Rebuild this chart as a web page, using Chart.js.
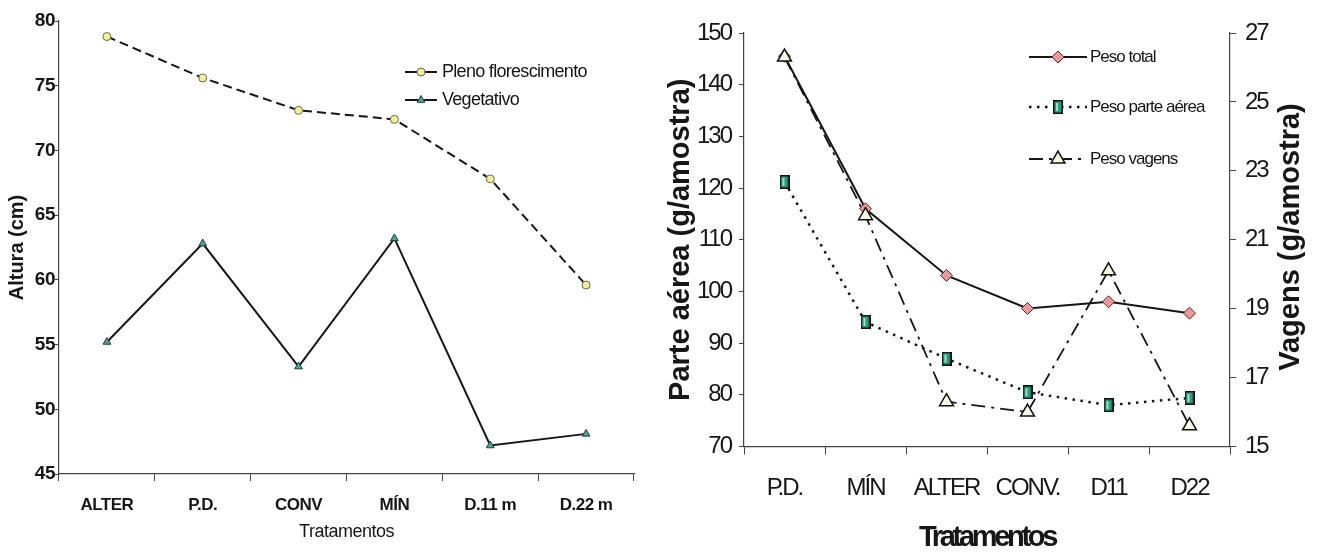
<!DOCTYPE html>
<html>
<head>
<meta charset="utf-8">
<script src="https://cdn.jsdelivr.net/npm/chart.js@4.4.1/dist/chart.umd.min.js"></script>
<style>
  html, body { margin: 0; padding: 0; background: #fff; }
  #wrap { position: relative; width: 1317px; height: 553px; overflow: hidden; }
  .box { position: absolute; top: 0; height: 553px; }
  #alturaBox { left: 0; width: 650px; }
  #pesoBox { left: 650px; width: 667px; }
</style>
</head>
<body>
<div id="wrap">
  <div class="box" id="alturaBox"><canvas id="alturaChart"></canvas></div>
  <div class="box" id="pesoBox"><canvas id="pesoChart"></canvas></div>
</div>
<script>
// Altura das plantas por tratamento
const tratamentosAltura = ['ALTER', 'P.D.', 'CONV', 'MÍN', 'D.11 m', 'D.22 m'];
const plenoFlorescimento = [78.8, 75.6, 73.1, 72.4, 67.8, 59.6];
const vegetativo = [55.2, 62.8, 53.3, 63.2, 47.2, 48.1];
const alturaTicks = [45, 50, 55, 60, 65, 70, 75, 80];

// Peso por tratamento (parte aérea no eixo esquerdo, vagens no direito)
const tratamentosPeso = ['P.D.', 'MÍN', 'ALTER', 'CONV.', 'D11', 'D22'];
const pesoTotal = [145.5, 116.0, 103.1, 96.7, 98.0, 95.8];
const pesoParteAerea = [121.2, 94.1, 87.0, 80.5, 78.0, 79.4];
const pesoVagens = [26.3, 21.7, 16.3, 16.0, 20.1, 15.6];
const parteAereaTicks = [70, 80, 90, 100, 110, 120, 130, 140, 150];
const vagensTicks = [15, 17, 19, 21, 23, 25, 27];

const FAMILY = "'Liberation Sans', Arial, sans-serif";
const INK = '#161616';

// small tall rectangle used as the "parte aérea" marker
function makeMarker(w, h, paint) {
    const c = document.createElement('canvas');
    c.width = w;
    c.height = h;
    paint(c.getContext('2d'), w, h);
    return c;
}
const rectMarker = makeMarker(10, 14, (g, w, h) => {
    g.fillStyle = '#2b9a7c';
    g.fillRect(1, 1, w - 2, h - 2);
    g.fillStyle = '#9fe0c8';
    g.fillRect(3, 3, 2, h - 6);
    g.strokeStyle = '#111';
    g.lineWidth = 1.5;
    g.strokeRect(0.75, 0.75, w - 1.5, h - 1.5);
});

// letter spacing for every text drawn on the canvas
const spacingPlugin = {
    id: 'spacing',
    beforeDraw(chart, args, opts) {
        chart.ctx.letterSpacing = opts.value || '0px';
    }
};

// line + marker legend drawn next to the series
const sideLegend = {
    id: 'sideLegend',
    afterDraw(chart, args, opts) {
        const ctx = chart.ctx;
        ctx.save();
        ctx.letterSpacing = opts.spacing || '0px';
        ctx.font = opts.font;
        ctx.textBaseline = 'middle';
        ctx.textAlign = 'left';
        chart.data.datasets.forEach((ds, i) => {
            const y = opts.rows[i];
            const x0 = opts.x;
            const x1 = opts.x + opts.lineLength;
            ctx.strokeStyle = ds.borderColor;
            ctx.lineWidth = ds.borderWidth;
            ctx.setLineDash(opts.solid ? [] : (ds.borderDash || []));
            ctx.beginPath();
            ctx.moveTo(x0, y);
            ctx.lineTo(x1, y);
            ctx.stroke();
            ctx.setLineDash([]);
            ctx.fillStyle = ds.pointBackgroundColor;
            ctx.strokeStyle = ds.pointBorderColor;
            ctx.lineWidth = ds.pointBorderWidth;
            Chart.helpers.drawPoint(ctx, {
                pointStyle: ds.pointStyle,
                radius: ds.pointRadius,
                borderWidth: ds.pointBorderWidth,
                rotation: 0
            }, (x0 + x1) / 2, y);
            ctx.fillStyle = INK;
            ctx.fillText(ds.label, x1 + opts.gap, y);
        });
        ctx.restore();
    }
};

// axis titles placed relative to the chart area
const axisTitles = {
    id: 'axisTitles',
    afterDraw(chart, args, opts) {
        const ctx = chart.ctx;
        const area = chart.chartArea;
        opts.items.forEach(t => {
            const x = t.x !== undefined ? t.x : (area.left + area.right) / 2;
            const y = t.y !== undefined ? t.y : (area.top + area.bottom) / 2;
            ctx.save();
            ctx.letterSpacing = t.spacing || '0px';
            ctx.font = t.font;
            ctx.fillStyle = INK;
            ctx.textAlign = 'center';
            ctx.textBaseline = 'middle';
            ctx.translate(x, y);
            ctx.rotate((t.rotation || 0) * Math.PI / 180);
            ctx.fillText(t.text, 0, 0);
            ctx.restore();
        });
    }
};

function fixedTicks(values) {
    return function (scale) {
        scale.ticks = values.map(v => ({ value: v }));
    };
}

new Chart(document.getElementById('alturaChart'), {
    type: 'line',
    data: {
        labels: tratamentosAltura,
        datasets: [{
            label: 'Pleno florescimento',
            data: plenoFlorescimento,
            borderColor: INK,
            borderWidth: 2,
            borderDash: [9, 5],
            pointStyle: 'circle',
            pointRadius: 4,
            pointBackgroundColor: '#f2ee9e',
            pointBorderColor: '#6a6a40',
            pointBorderWidth: 1,
            tension: 0
        }, {
            label: 'Vegetativo',
            data: vegetativo,
            borderColor: INK,
            borderWidth: 2,
            pointStyle: 'triangle',
            pointRadius: 4.5,
            pointBackgroundColor: '#4aa596',
            pointBorderColor: '#1e3d38',
            pointBorderWidth: 1,
            tension: 0
        }]
    },
    options: {
        responsive: true,
        maintainAspectRatio: false,
        animation: false,
        layout: { padding: { top: 21, right: 16, left: 0, bottom: 0 } },
        plugins: {
            legend: { display: false },
            tooltip: { enabled: false },
            spacing: { value: '-0.5px' },
            sideLegend: {
                x: 405, lineLength: 32, gap: 5, rows: [72, 100], solid: true,
                font: '18px ' + FAMILY, spacing: '-0.7px'
            },
            axisTitles: {
                items: [
                    { text: 'Altura (cm)', x: 17, rotation: -90, font: 'bold 20px ' + FAMILY },
                    { text: 'Tratamentos', y: 532, font: '18px ' + FAMILY, spacing: '-0.5px' }
                ]
            }
        },
        scales: {
            x: {
                offset: true,
                afterFit: s => { s.height = 79; },
                grid: { offset: true, drawOnChartArea: false, tickLength: 7, color: '#444', lineWidth: 1 },
                border: { color: '#444', width: 1.2 },
                ticks: {
                    color: INK, padding: 14, maxRotation: 0, minRotation: 0, autoSkip: false,
                    font: { family: FAMILY, size: 17, weight: 'bold' }
                }
            },
            y: {
                min: 45,
                max: 80,
                afterFit: s => { s.width = 59; },
                afterBuildTicks: fixedTicks(alturaTicks),
                grid: { drawOnChartArea: false, tickLength: 4, color: '#444' },
                border: { color: '#444', width: 1.2 },
                ticks: { color: INK, padding: 0, font: { family: FAMILY, size: 19, weight: 'bold' } }
            }
        }
    },
    plugins: [spacingPlugin, sideLegend, axisTitles]
});

new Chart(document.getElementById('pesoChart'), {
    type: 'line',
    data: {
        labels: tratamentosPeso,
        datasets: [{
            label: 'Peso total',
            data: pesoTotal,
            yAxisID: 'y',
            order: 1,
            borderColor: INK,
            borderWidth: 2,
            pointStyle: 'rectRot',
            pointRadius: 6,
            pointBackgroundColor: '#e79a9a',
            pointBorderColor: '#7a1a1a',
            pointBorderWidth: 1,
            tension: 0
        }, {
            label: 'Peso parte aérea',
            data: pesoParteAerea,
            yAxisID: 'y',
            order: 2,
            borderColor: INK,
            borderWidth: 2.5,
            borderDash: [2.5, 5.5],
            pointStyle: rectMarker,
            pointRadius: 6,
            pointBackgroundColor: '#2b9a7c',
            pointBorderColor: '#111',
            pointBorderWidth: 1,
            tension: 0
        }, {
            label: 'Peso vagens',
            data: pesoVagens,
            yAxisID: 'y1',
            order: 0,
            borderColor: INK,
            borderWidth: 1.8,
            borderDash: [14, 6, 3, 6],
            pointStyle: 'triangle',
            pointRadius: 8,
            pointBackgroundColor: '#fbfbe6',
            pointBorderColor: '#111',
            pointBorderWidth: 1.5,
            tension: 0
        }]
    },
    options: {
        responsive: true,
        maintainAspectRatio: false,
        animation: false,
        layout: { padding: { top: 33, right: 0, left: 0, bottom: 0 } },
        plugins: {
            legend: { display: false },
            tooltip: { enabled: false },
            spacing: { value: '-2px' },
            sideLegend: {
                x: 379, lineLength: 58, gap: 3, rows: [57, 107, 159],
                font: '17px ' + FAMILY, spacing: '-1px'
            },
            axisTitles: {
                items: [
                    { text: 'Parte aérea (g/amostra)', x: 31, rotation: -90, font: 'bold 29px ' + FAMILY },
                    { text: 'Vagens (g/amostra)', x: 641, y: 237, rotation: -90, font: 'bold 29px ' + FAMILY },
                    { text: 'Tratamentos', y: 538, font: 'bold 29px ' + FAMILY, spacing: '-3.3px' }
                ]
            }
        },
        scales: {
            x: {
                offset: true,
                afterFit: s => { s.height = 553 - 446.5; },
                grid: { offset: true, drawOnChartArea: false, tickLength: 8, color: '#444' },
                border: { color: '#444', width: 1.2 },
                ticks: {
                    color: INK, padding: 19, maxRotation: 0, minRotation: 0, autoSkip: false,
                    font: { family: FAMILY, size: 24 }
                }
            },
            y: {
                position: 'left',
                min: 70,
                max: 150,
                afterFit: s => { s.width = 94; },
                afterBuildTicks: fixedTicks(parteAereaTicks),
                grid: { drawOnChartArea: false, tickLength: 5, color: '#444' },
                border: { color: '#444', width: 1.2 },
                ticks: { color: INK, padding: 8, font: { family: FAMILY, size: 24 } }
            },
            y1: {
                position: 'right',
                min: 15,
                max: 27,
                afterFit: s => { s.width = 87; },
                afterBuildTicks: fixedTicks(vagensTicks),
                grid: { drawOnChartArea: false, tickLength: 6, color: '#444' },
                border: { color: '#444', width: 1.2 },
                ticks: { color: INK, padding: 9, font: { family: FAMILY, size: 24 } }
            }
        }
    },
    plugins: [spacingPlugin, sideLegend, axisTitles]
});
</script>
</body>
</html>
